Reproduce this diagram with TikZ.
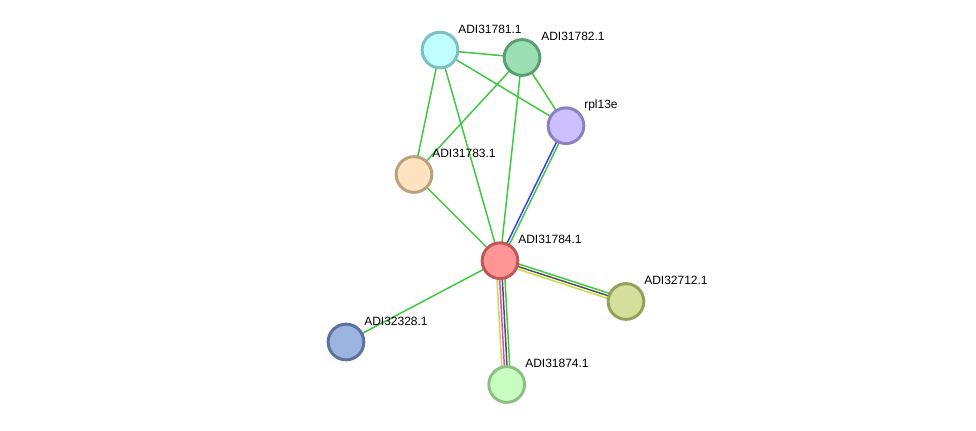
\documentclass[tikz,border=0pt]{standalone}
\usepackage{fontspec}
\setmainfont{Liberation Sans}
\usetikzlibrary{calc,backgrounds}
\definecolor{eg}{HTML}{3DC83D}
\definecolor{eblue}{HTML}{3A3AF0}
\definecolor{egray}{HTML}{505050}
\definecolor{eyel}{HTML}{C8DC3C}
\definecolor{emag}{HTML}{E040E0}
\definecolor{fa}{HTML}{C0FFFF}\definecolor{da}{HTML}{7CBFBF}
\definecolor{fb}{HTML}{9DDFB5}\definecolor{db}{HTML}{5A9F74}
\definecolor{fc}{HTML}{CCC0FF}\definecolor{dc}{HTML}{8B80C2}
\definecolor{fd}{HTML}{FFE2C0}\definecolor{dd}{HTML}{BBA07C}
\definecolor{fe}{HTML}{FF9595}\definecolor{de}{HTML}{C05656}
\definecolor{ff}{HTML}{D3DF9A}\definecolor{df}{HTML}{93A05A}
\definecolor{fg}{HTML}{9AB3DF}\definecolor{dg}{HTML}{5A709F}
\definecolor{fh}{HTML}{C8FFC0}\definecolor{dh}{HTML}{8CC082}
\begin{document}
\begin{tikzpicture}[x=0.75pt,y=-0.75pt,
  prot/.style={circle,minimum size=26.8pt,inner sep=0pt,line width=2.2pt},
  lab/.style={anchor=base west,inner sep=0pt,font=\fontsize{9}{10}\selectfont},
  edge/.style={line width=1.1pt}]
\useasboundingbox (0,0) rectangle (976,430);
\node[prot,fill=fa,draw=da] (n81) at (440,50) {};
\node[prot,fill=fb,draw=db] (n82) at (522,57.5) {};
\node[prot,fill=fc,draw=dc] (r13) at (566,125.7) {};
\node[prot,fill=fd,draw=dd] (n83) at (414,174.5) {};
\node[prot,fill=fe,draw=de] (n84) at (500,260.7) {};
\node[prot,fill=ff,draw=df] (n12) at (626,301.5) {};
\node[prot,fill=fg,draw=dg] (n28) at (346,342) {};
\node[prot,fill=fh,draw=dh] (n74) at (506.7,384.5) {};
\node[lab] (l81) at (458,33) {ADI31781.1};
\node[lab] (l82) at (541,40.5) {ADI31782.1};
\node[lab] (l13) at (584,108.7) {rpl13e};
\node[lab] (l83) at (432,157.5) {ADI31783.1};
\node[lab] (l84) at (518,243.7) {ADI31784.1};
\node[lab] (l12) at (644,284.5) {ADI32712.1};
\node[lab] (l28) at (364,325) {ADI32328.1};
\node[lab] (l74) at (525,367.5) {ADI31874.1};
\begin{scope}[on background layer]
\fill[white] (0,0) rectangle (976,430);
\draw[edge,eg] (n81.center) -- (n82.center);
\draw[edge,eg] (n81.center) -- (r13.center);
\draw[edge,eg] (n81.center) -- (n83.center);
\draw[edge,eg] (n81.center) -- (n84.center);
\draw[edge,eg] (n82.center) -- (n83.center);
\draw[edge,eg] (n82.center) -- (r13.center);
\draw[edge,eg] (n82.center) -- (n84.center);
\draw[edge,eg] (n83.center) -- (n84.center);
\draw[edge,eg] (n84.center) -- (n28.center);
% rpl13e -- 31784
\draw[edge,eblue] ($(n84.center)!1pt!90:(r13.center)$) -- ($(r13.center)!1pt!-90:(n84.center)$);
\draw[edge,eg] ($(n84.center)!-1pt!90:(r13.center)$) -- ($(r13.center)!-1pt!-90:(n84.center)$);
% 31784 -- 32712
\draw[edge,eg] ($(n84.center)!2pt!90:(n12.center)$) -- ($(n12.center)!2pt!-90:(n84.center)$);
\draw[edge,egray] (n84.center) -- (n12.center);
\draw[edge,eyel] ($(n84.center)!-2pt!90:(n12.center)$) -- ($(n12.center)!-2pt!-90:(n84.center)$);
% 31784 -- 31874
\draw[edge,eyel] ($(n84.center)!-3pt!90:(n74.center)$) -- ($(n74.center)!-3pt!-90:(n84.center)$);
\draw[edge,emag] ($(n84.center)!-1pt!90:(n74.center)$) -- ($(n74.center)!-1pt!-90:(n84.center)$);
\draw[edge,egray] ($(n84.center)!1pt!90:(n74.center)$) -- ($(n74.center)!1pt!-90:(n84.center)$);
\draw[edge,eg] ($(n84.center)!3pt!90:(n74.center)$) -- ($(n74.center)!3pt!-90:(n84.center)$);
\end{scope}
\end{tikzpicture}
\end{document}
